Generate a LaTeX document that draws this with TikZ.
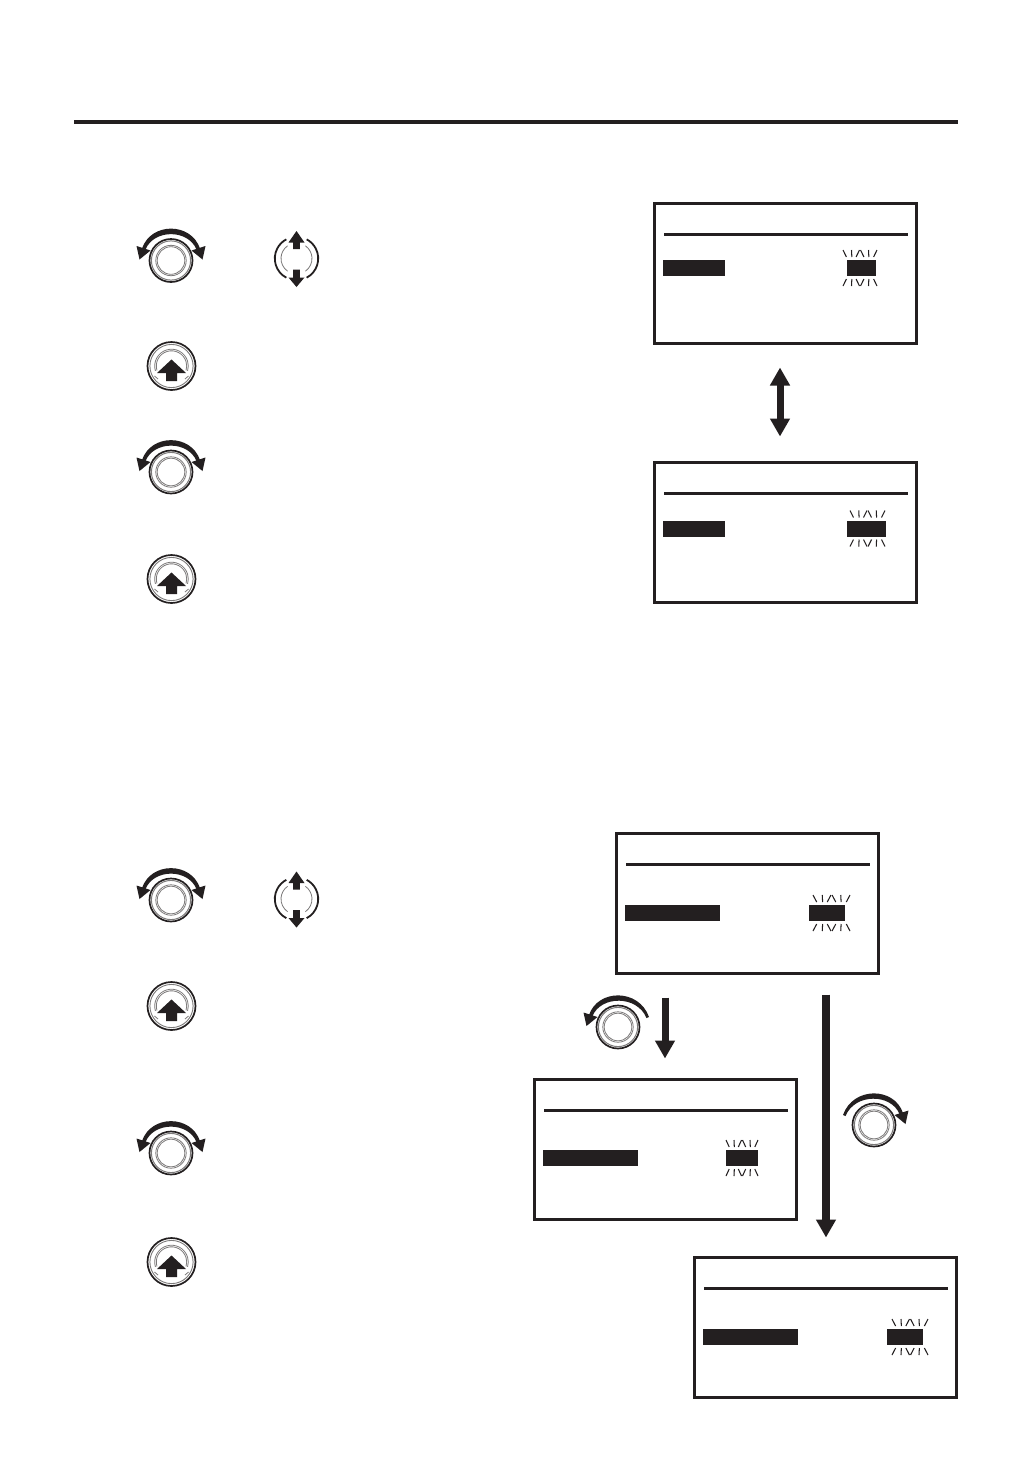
\documentclass[tikz,border=0pt]{standalone}
\usetikzlibrary{arrows.meta}
\definecolor{ink}{HTML}{231F20}
\tikzset{
  screen/.style={draw=ink,line width=2.2pt,minimum width=262pt,minimum height=140pt,inner sep=0pt,outer sep=0pt,fill=white},
  ray/.style={draw=ink,line width=1.05pt},
  big arrow/.style={draw=ink,line width=7pt,-{Triangle[length=18pt,width=19pt]}},
  dial rim/.style={draw=ink,line width=1.7pt},
  dial inner/.style={draw=ink!60,line width=0.8pt},
}
\newcommand{\lcd}[7]{%
  \node[screen] (#1) at (#2,#3+70.5) {};
  \draw[ink,line width=2.2pt] (#2-121.5,#3+31.5) -- (#2+122.5,#3+31.5);
  \fill[ink] (#2-122.5,#7) rectangle (#2-122.5+#4,#7+16);
  \fill[ink] (#5,#7) rectangle (#6,#7+16);
}
\newcommand{\rayset}[3]{%
  \foreach \o/\s in {-1/0.2,-0.5/0.02,-0.03/-0.2,0.03/0.2,0.5/0.02,1/-0.2}{
    \draw[ray] ({#1+\o*#3},#2-10) -- ({#1+\o*#3+\s*#3},#2-3);
    \draw[ray] ({#1+\o*#3},#2+26) -- ({#1+\o*#3+\s*#3},#2+19);
  }}
\newcommand{\knob}[2]{%
  \draw[dial rim] (#1,#2) circle (21.5);
  \draw[draw=ink!60,line width=1pt] (#1,#2) circle (19.6);
  \draw[dial inner] (#1,#2) circle (15.2);
  \draw[dial inner] (#1,#2) circle (13.8);
}
\newcommand{\headL}[2]{\fill[ink] (#1-34.5,#2-14.5) -- (#1-31.5,#2-1) -- (#1-20.5,#2-10) -- cycle;}
\newcommand{\headR}[2]{\fill[ink] (#1+34.5,#2-14.5) -- (#1+31.5,#2-1) -- (#1+20.5,#2-10) -- cycle;}
\newcommand{\bothturn}[2]{%
  \knob{#1}{#2}
  \fill[ink] (#1-29,#2-12) .. controls (#1-20,#2-38.5) and (#1+20,#2-38.5) .. (#1+29,#2-12)
     -- (#1+25.5,#2-11) .. controls (#1+17,#2-31.5) and (#1-17,#2-31.5) .. (#1-25.5,#2-11) -- cycle;
  \headL{#1}{#2}\headR{#1}{#2}
}
\newcommand{\leftturn}[2]{%
  \knob{#1}{#2}
  \fill[ink] (#1-29,#2-12) .. controls (#1-20,#2-38.5) and (#1+21,#2-38.5) .. (#1+31,#2-10)
     -- (#1+28.5,#2-9) .. controls (#1+19,#2-32) and (#1-17,#2-31.5) .. (#1-25.5,#2-11) -- cycle;
  \headL{#1}{#2}
}
\newcommand{\rightturn}[2]{%
  \knob{#1}{#2}
  \fill[ink] (#1+29,#2-12) .. controls (#1+20,#2-38.5) and (#1-21,#2-38.5) .. (#1-31,#2-10)
     -- (#1-28.5,#2-9) .. controls (#1-19,#2-32) and (#1+17,#2-31.5) .. (#1+25.5,#2-11) -- cycle;
  \headR{#1}{#2}
}
\newcommand{\updown}[2]{%
  \draw[ink,line width=1.8pt] (#1,#2) ++(118:21.7) arc (118:242:21.7);
  \draw[ink,line width=1.8pt] (#1,#2) ++(62:21.7) arc (62:-62:21.7);
  \draw[dial inner] (#1,#2) ++(125:15.5) arc (125:235:15.5);
  \draw[dial inner] (#1,#2) ++(55:15.5) arc (55:-55:15.5);
  \fill[ink] (#1,#2-27.5) -- (#1+8,#2-16) -- (#1+3.4,#2-16) -- (#1+3.4,#2-9.5) -- (#1-3.4,#2-9.5) -- (#1-3.4,#2-16) -- (#1-8,#2-16) -- cycle;
  \fill[ink] (#1,#2+28.5) -- (#1+8,#2+19) -- (#1+3.4,#2+19) -- (#1+3.4,#2+11) -- (#1-3.4,#2+11) -- (#1-3.4,#2+19) -- (#1-8,#2+19) -- cycle;
}
\newcommand{\press}[2]{%
  \draw[dial rim] (#1,#2) circle (24);
  \draw[draw=ink!60,line width=0.9pt] (#1,#2) circle (21.6);
  \draw[dial inner] (#1,#2) ++(163:16.8) arc (163:377:16.8);
  \draw[dial inner] (#1,#2) ++(163:15.2) arc (163:377:15.2);
  \draw[dial inner] (#1-17,#2+10) -- (#1-13.5,#2+13);
  \draw[dial inner] (#1+17,#2+10) -- (#1+13.5,#2+13);
  \fill[ink] (#1,#2-6.5) -- (#1+14.5,#2+7) -- (#1+5.5,#2+7) -- (#1+5.5,#2+15) -- (#1-5.5,#2+15) -- (#1-5.5,#2+7) -- (#1-14.5,#2+7) -- cycle;
}
\begin{document}
\begin{tikzpicture}[x=1pt,y=-1pt]
\useasboundingbox (0,0) rectangle (1032,1457);
\fill[white] (0,0) rectangle (1032,1457);
\draw[ink,line width=4pt] (74,122) -- (958,122);

\lcd{s1}{785.5}{203}{62}{847}{876}{260}
\rayset{860}{260}{17}
\lcd{s2}{785.5}{462}{62}{847}{886}{520.5}
\rayset{867.5}{520.5}{17.5}
\lcd{s3}{747.5}{833}{95}{809}{845}{905}
\rayset{831.5}{905}{18.5}
\lcd{s4}{665.5}{1079}{95}{726}{758}{1150}
\rayset{742}{1150}{16}
\lcd{s5}{825.5}{1257}{95}{887}{923}{1329}
\rayset{910}{1329}{18}

\draw[draw=ink,line width=7pt,{Triangle[length=18pt,width=19pt]}-{Triangle[length=18pt,width=19pt]},shorten <=24pt,shorten >=26pt] ([xshift=-5.5pt]s1.south) -- ([xshift=-5.5pt]s2.north);
\draw[big arrow,shorten <=24pt,shorten >=21pt] ([xshift=-82.5pt]s3.south) -- ([xshift=-0.5pt]s4.north);
\draw[big arrow,line width=8pt,shorten <=21pt,shorten >=20pt] ([xshift=78.5pt]s3.south) -- ([xshift=0.5pt]s5.north);

\bothturn{171}{260.5}
\updown{296.5}{258.5}
\press{171.5}{366}
\bothturn{171}{472}
\press{171.5}{579}
\bothturn{171}{900}
\updown{296.5}{899}
\press{171.5}{1006}
\bothturn{171}{1153}
\press{171.5}{1262}
\leftturn{618}{1027}
\rightturn{874}{1125}
\end{tikzpicture}
\end{document}
